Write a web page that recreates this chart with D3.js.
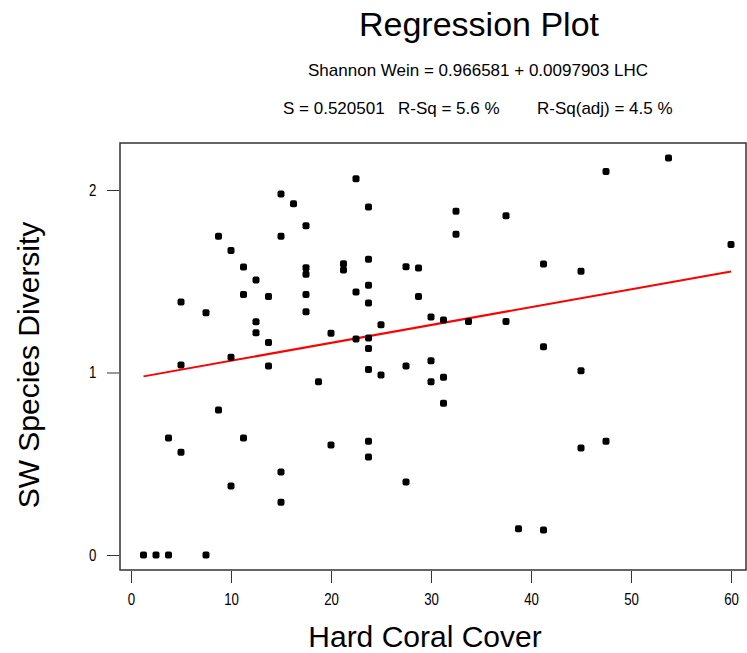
<!DOCTYPE html>
<html>
<head>
<meta charset="utf-8">
<script src="https://cdn.jsdelivr.net/npm/d3@7"></script>
<style>
  body { margin: 0; background: #fff; }
  text { font-family: "Liberation Sans", Arial, sans-serif; fill: #000; }
</style>
</head>
<body>
<div id="plot"></div>
<script>
// chart size and frame
const width = 747;
const height = 653;
const frame = {left: 120, right: 746, top: 143, bottom: 570};

// data
const coralCover = [
  15, 16.25, 17.5, 8.75, 15, 10, 11.25, 17.5, 17.5, 12.5,
  5, 11.25, 13.75, 17.5, 7.5, 17.5, 12.5, 12.5, 13.75, 10,
  22.5, 23.75, 32.5, 37.5, 32.5, 23.75, 21.25, 21.25, 27.5, 28.75,
  23.75, 22.5, 28.75, 23.75, 30, 31.25, 33.75, 37.5, 25, 20,
  22.5, 23.75, 23.75, 30, 47.5, 53.75, 60, 41.25, 45, 41.25,
  5, 13.75, 18.75, 8.75, 3.75, 11.25, 5, 15, 10, 15,
  1.25, 2.5, 3.75, 7.5, 23.75, 25, 27.5, 30, 31.25, 31.25,
  20, 23.75, 23.75, 27.5, 38.75, 45, 45, 47.5, 41.25
];
const diversity = [
  1.978, 1.925, 1.804, 1.746, 1.746, 1.669, 1.578, 1.574, 1.538, 1.507,
  1.386, 1.428, 1.417, 1.428, 1.328, 1.333, 1.278, 1.218, 1.165, 1.083,
  2.062, 1.907, 1.883, 1.859, 1.757, 1.620, 1.596, 1.562, 1.580, 1.573,
  1.478, 1.441, 1.417, 1.381, 1.304, 1.288, 1.280, 1.280, 1.262, 1.215,
  1.184, 1.189, 1.131, 1.065, 2.102, 2.175, 1.702, 1.595, 1.555, 1.141,
  1.041, 1.036, 0.950, 0.795, 0.641, 0.641, 0.563, 0.455, 0.378, 0.289,
  0, 0, 0, 0, 1.017, 0.986, 1.036, 0.950, 0.974, 0.831,
  0.603, 0.623, 0.537, 0.400, 0.144, 1.010, 0.586, 0.623, 0.137
];
const xTicks = [0, 10, 20, 30, 40, 50, 60];
const yTicks = [0, 1, 2];
const intercept = 0.966581;
const slope = 0.0097903;
const fitRange = [1.25, 60];

const titleText = "Regression Plot";
const equationText = "Shannon Wein = 0.966581 + 0.0097903 LHC";
const statsText = ["S = 0.520501", "R-Sq = 5.6 %", "R-Sq(adj) = 4.5 %"];

const points = coralCover.map((x, i) => [x, diversity[i]]);

const svg = d3.select("div#plot")
  .append("svg")
    .attr("width", width)
    .attr("height", height);

svg.append("rect")
    .attr("width", width)
    .attr("height", height)
    .attr("fill", "#fff");

const xScale = d3.scaleLinear()
    .domain([0, 60])
    .range([131, 731]);

const yScale = d3.scaleLinear()
    .domain([0, 2])
    .range([555, 190]);

// frame
svg.append("rect")
    .attr("x", frame.left)
    .attr("y", frame.top)
    .attr("width", frame.right - frame.left)
    .attr("height", frame.bottom - frame.top)
    .attr("fill", "none")
    .attr("stroke", "#333")
    .attr("stroke-width", 1.5);

// axes (tick labels squeezed sideways like the original narrow font)
const xAxis = svg.append("g")
    .attr("transform", `translate(0, ${frame.bottom + 1})`)
    .call(d3.axisBottom(xScale).tickValues(xTicks).tickSize(12).tickPadding(10));

const yAxis = svg.append("g")
    .attr("transform", `translate(${frame.left - 1}, 0)`)
    .call(d3.axisLeft(yScale).tickValues(yTicks).tickFormat(d3.format("d")).tickSize(12).tickPadding(11));

[xAxis, yAxis].forEach(ax => {
  ax.select(".domain").remove();
  ax.selectAll(".tick line").attr("stroke", "#333");
  ax.selectAll(".tick text")
      .attr("font-size", 17)
      .attr("font-family", null)
      .attr("fill", "#333");
});
xAxis.selectAll(".tick text").attr("transform", "scale(0.78,1)");
yAxis.selectAll(".tick text").attr("x", -29).attr("transform", "scale(0.78,1)");

// fitted line
const fitLine = d3.line()
    .x(d => xScale(d))
    .y(d => yScale(intercept + slope * d));

svg.append("path")
    .datum(fitRange)
    .attr("d", fitLine)
    .attr("fill", "none")
    .attr("stroke", "#ff0000")
    .attr("stroke-width", 2);

// points
svg.append("g")
  .selectAll("rect")
  .data(points)
  .join("rect")
    .attr("x", d => xScale(d[0]) - 3.5)
    .attr("y", d => yScale(d[1]) - 3.5)
    .attr("width", 7)
    .attr("height", 7)
    .attr("rx", 2)
    .attr("fill", "#000");

// titles
svg.append("text")
    .attr("x", 479)
    .attr("y", 36)
    .attr("text-anchor", "middle")
    .attr("font-size", 34)
    .text(titleText);

svg.append("text")
    .attr("x", 478)
    .attr("y", 76)
    .attr("text-anchor", "middle")
    .attr("font-size", 17)
    .attr("fill", "#222")
    .text(equationText);

const statsX = [283, 398, 537];
svg.append("g")
  .selectAll("text")
  .data(statsText)
  .join("text")
    .attr("x", (d, i) => statsX[i])
    .attr("y", 114)
    .attr("font-size", 17)
    .attr("fill", "#222")
    .text(d => d);

svg.append("text")
    .attr("x", 425)
    .attr("y", 647)
    .attr("text-anchor", "middle")
    .attr("font-size", 30)
    .attr("fill", "#222")
    .text("Hard Coral Cover");

svg.append("text")
    .attr("transform", "translate(39, 365) rotate(-90)")
    .attr("text-anchor", "middle")
    .attr("font-size", 30)
    .attr("fill", "#222")
    .text("SW Species Diversity");
</script>
</body>
</html>
